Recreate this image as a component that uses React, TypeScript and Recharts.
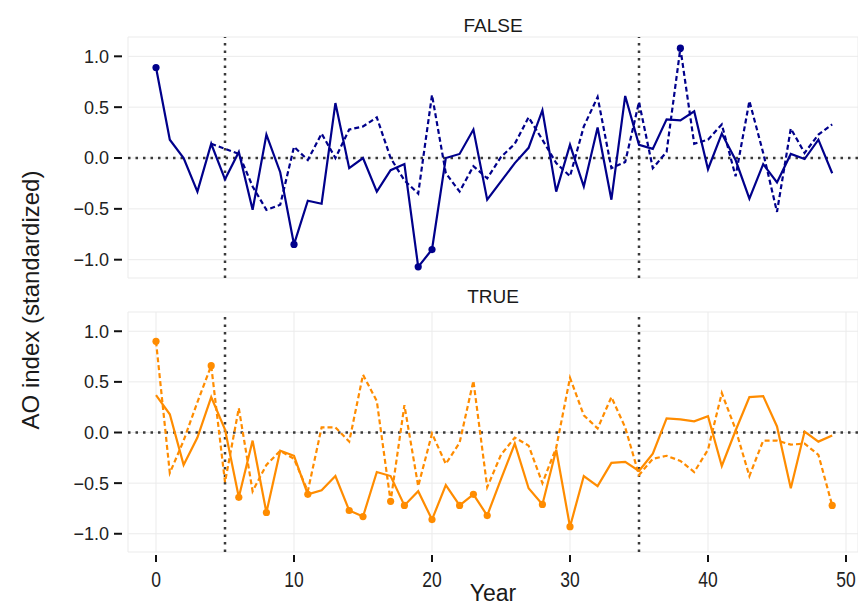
import React from 'react'
import {
  ComposedChart, Line, XAxis, YAxis, CartesianGrid, ReferenceLine
} from 'recharts'

const years = [
  0, 1, 2, 3, 4, 5, 6, 7, 8, 9,
  10, 11, 12, 13, 14, 15, 16, 17, 18, 19,
  20, 21, 22, 23, 24, 25, 26, 27, 28, 29,
  30, 31, 32, 33, 34, 35, 36, 37, 38, 39,
  40, 41, 42, 43, 44, 45, 46, 47, 48, 49,
]

// panel FALSE
const falseSolid = [
  0.89, 0.18, 0.0, -0.33, 0.14, -0.21, 0.06, -0.51, 0.23, -0.14,
  -0.85, -0.42, -0.45, 0.54, -0.1, 0.0, -0.33, -0.12, -0.06, -1.07,
  -0.9, 0.0, 0.04, 0.28, -0.41, -0.23, -0.05, 0.1, 0.47, -0.33,
  0.13, -0.28, 0.3, -0.41, 0.61, 0.13, 0.09, 0.38, 0.37, 0.46,
  -0.11, 0.24, -0.02, -0.4, -0.06, -0.24, 0.04, -0.01, 0.18, -0.15,
]
const falseDashed = [
  null, null, null, null, 0.14, 0.09, 0.04, -0.28, -0.51, -0.46,
  0.11, -0.02, 0.24, 0.0, 0.28, 0.31, 0.4, 0.0, -0.22, -0.35,
  0.62, -0.15, -0.33, -0.08, -0.2, 0.01, 0.14, 0.4, 0.18, -0.05,
  -0.18, 0.31, 0.6, -0.1, -0.04, 0.55, -0.1, 0.06, 1.08, 0.14,
  0.18, 0.33, -0.18, 0.56, 0.05, -0.53, 0.29, 0.05, 0.23, 0.33,
]
const falseMarks = [
  0.89, null, null, null, null, null, null, null, null, null,
  -0.85, null, null, null, null, null, null, null, null, -1.07,
  -0.9, null, null, null, null, null, null, null, null, null,
  null, null, null, null, null, null, null, null, 1.08, null,
  null, null, null, null, null, null, null, null, null, null,
]

// panel TRUE
const trueSolid = [
  0.37, 0.18, -0.32, -0.05, 0.35, 0.03, -0.64, -0.08, -0.79, -0.18,
  -0.23, -0.61, -0.57, -0.43, -0.77, -0.83, -0.39, -0.43, -0.72, -0.58,
  -0.86, -0.52, -0.72, -0.61, -0.82, -0.46, -0.11, -0.55, -0.71, -0.17,
  -0.93, -0.43, -0.53, -0.3, -0.29, -0.38, -0.21, 0.14, 0.13, 0.11,
  0.16, -0.33, 0.02, 0.35, 0.36, 0.06, -0.55, 0.01, -0.09, -0.03,
]
const trueDashed = [
  0.9, -0.4, -0.08, 0.3, 0.66, -0.49, 0.24, -0.58, -0.32, -0.18,
  -0.26, -0.58, 0.05, 0.05, -0.09, 0.57, 0.31, -0.68, 0.27, -0.53,
  -0.01, -0.31, -0.1, 0.51, -0.54, -0.22, -0.05, -0.13, -0.5, -0.15,
  0.54, 0.17, 0.04, 0.35, 0.05, -0.42, -0.26, -0.23, -0.28, -0.39,
  -0.17, 0.39, 0.03, -0.43, -0.08, -0.08, -0.12, -0.11, -0.22, -0.72,
]
const trueMarks = [
  0.9, null, null, null, 0.66, null, -0.64, null, -0.79, null,
  null, -0.61, null, null, -0.77, -0.83, null, -0.68, -0.72, null,
  -0.86, null, -0.72, -0.61, -0.82, null, null, null, -0.71, null,
  -0.93, null, null, null, null, null, null, null, null, null,
  null, null, null, null, null, null, null, null, null, -0.72,
]

const xTicks = [0, 10, 20, 30, 40, 50]
const yTicks = [-1, -0.5, 0, 0.5, 1]
const vLines = [5, 35]

const FONT = '"Liberation Sans", Arial, Helvetica, sans-serif'
const NAVY = '#00008B'
const ORANGE = '#FF8C00'
const DOT = '#3a3a3a'

const fmtY = (v: number) => v.toFixed(1).replace('-', '\u2212')

const YTick = (props: any) => {
  const { x, y, payload } = props
  return (
    <g>
      <line x1={x - 8} x2={x} y1={y} y2={y} stroke="#111" strokeWidth={2} />
      <text x={x - 13} y={y} dy="0.36em" textAnchor="end" fontSize={18}
        fontFamily={FONT} fill="#222">{fmtY(payload.value)}</text>
    </g>
  )
}

const XTick = (props: any) => {
  const { x, y, payload } = props
  return (
    <g>
      <line x1={x} x2={x} y1={y + 3} y2={y + 10} stroke="#111" strokeWidth={2} />
      <text x={x} y={y + 35} textAnchor="middle" fontSize={19}
        fontFamily={FONT} fill="#222"
        transform={`translate(${x} ${y + 35}) scale(0.92 1.12) translate(${-x} ${-(y + 35)})`}
      >{payload.value}</text>
    </g>
  )
}

function Panel({ solid, dashed, marks, color, bottom }: any) {
  const data = years.map((year, i) => ({
    year, solid: solid[i], dashed: dashed[i], mark: marks[i],
  }))
  return (
    <ComposedChart
      width={858}
      height={bottom ? 328 : 280}
      data={data}
      margin={{ top: bottom ? 32 : 37, right: 0, bottom: 0, left: 0 }}
    >
      <CartesianGrid stroke="#EBEBEB" strokeWidth={1} />
      <XAxis
        dataKey="year" type="number" domain={[-2.03, 50.87]} ticks={xTicks}
        allowDataOverflow axisLine={false} tickLine={false}
        tickSize={0} tickMargin={0}
        height={bottom ? 56 : 2}
        tick={bottom ? <XTick /> : false}
      />
      <YAxis
        type="number" domain={[-1.18, 1.19]} ticks={yTicks} allowDataOverflow
        width={128} axisLine={false} tickLine={false} tickSize={6} tickMargin={0}
        tick={<YTick />}
      />
      <ReferenceLine y={0} stroke={DOT} strokeWidth={2.5} strokeDasharray="2.5 5" />
      {vLines.map(v => (
        <ReferenceLine key={v} x={v} stroke={DOT} strokeWidth={2.5} strokeDasharray="2.5 5" />
      ))}
      <Line dataKey="dashed" stroke={color} strokeWidth={2.2} strokeDasharray="5 3"
        dot={false} activeDot={false} isAnimationActive={false} />
      <Line dataKey="solid" stroke={color} strokeWidth={2.2}
        dot={false} activeDot={false} isAnimationActive={false} />
      <Line dataKey="mark" stroke="none"
        dot={{ r: 3.6, fill: color, stroke: color, strokeWidth: 0 }}
        activeDot={false} isAnimationActive={false} />
    </ComposedChart>
  )
}

const strip: React.CSSProperties = {
  position: 'absolute', left: 128, width: 730, textAlign: 'center',
  fontFamily: FONT, fontSize: 19, color: '#1a1a1a', lineHeight: '22px',
}

export default function App() {
  return (
    <div style={{ position: 'absolute', left: 0, top: 0, width: 858, height: 608, background: '#fff' }}>
      <div style={{ position: 'absolute', left: 0, top: 0 }}>
        <Panel solid={falseSolid} dashed={falseDashed} marks={falseMarks} color={NAVY} />
      </div>
      <div style={{ position: 'absolute', left: 0, top: 280 }}>
        <Panel solid={trueSolid} dashed={trueDashed} marks={trueMarks} color={ORANGE} bottom />
      </div>
      <div style={{ ...strip, top: 15 }}>FALSE</div>
      <div style={{ ...strip, top: 286 }}>TRUE</div>
      <div style={{
        position: 'absolute', left: 31, top: 300, transform: 'translate(-50%, -50%) rotate(-90deg)',
        whiteSpace: 'nowrap', fontFamily: FONT, fontSize: 24, color: '#1a1a1a',
      }}>AO index (standardized)</div>
      <div style={{
        position: 'absolute', left: 128, width: 730, top: 580, textAlign: 'center',
        fontFamily: FONT, fontSize: 23, color: '#1a1a1a', lineHeight: '26px',
      }}>Year</div>
    </div>
  )
}
